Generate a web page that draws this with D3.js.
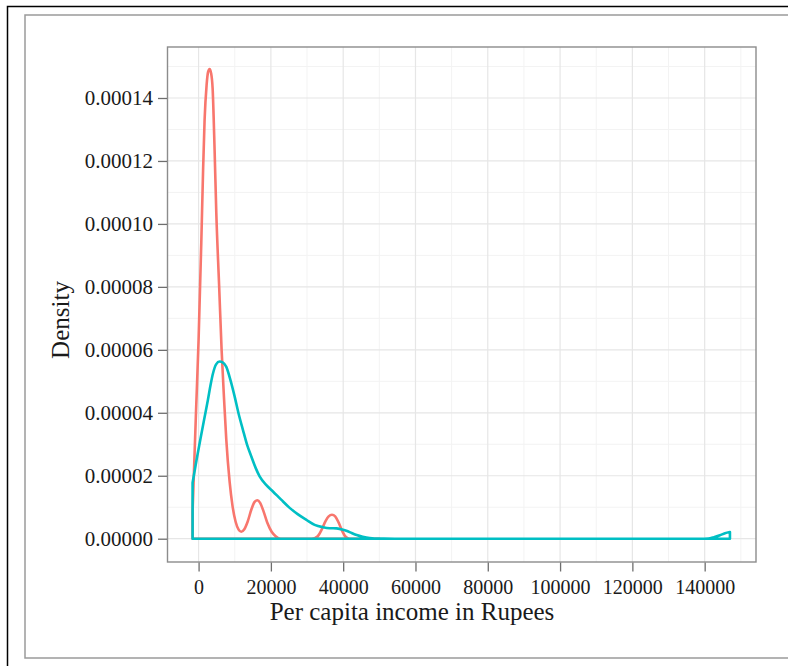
<!DOCTYPE html>
<html>
<head>
<meta charset="utf-8">
<script src="https://cdn.jsdelivr.net/npm/d3@7"></script>
<style>
  html, body { margin: 0; padding: 0; background: #fff; }
  svg { display: block; }
</style>
</head>
<body>
<div class="density_chart"></div>
<script>
// income (Rupees) / density pairs
const redIncome = [-1661, -1384, -692, 0, 747, 1246, 1661, 2215, 2630, 3045, 3460, 3875, 4429, 4900,
  5675, 6367, 7059, 7668, 8581, 9412, 10242, 11073, 11820, 12595, 13564, 14671, 15502, 16249,
  17024, 17993, 19100, 20208, 21315, 22699, 27000, 31300, 32942, 34049, 35156, 35986, 36899,
  37785, 38754, 39723, 40692, 41800, 50000];
const redDensity = [8.6e-6, 1.78e-5, 4.10e-5, 6.32e-5, 9.40e-5, 1.171e-4, 1.330e-4, 1.441e-4, 1.483e-4,
  1.492e-4, 1.479e-4, 1.432e-4, 1.235e-4, 1.035e-4, 8.06e-5, 6.00e-5, 4.41e-5, 3.14e-5, 1.81e-5,
  1.02e-5, 5.4e-6, 2.9e-6, 2.2e-6, 2.9e-6, 5.4e-6, 9.5e-6, 1.17e-5, 1.22e-5, 1.14e-5, 8.6e-6,
  4.8e-6, 2.2e-6, 8e-7, 0, 0, 0, 8e-7, 2.9e-6, 5.7e-6, 7.1e-6, 7.62e-6, 7.1e-6, 5.1e-6, 2.5e-6,
  6e-7, 0, 0];

const tealIncome = [-1661, -554, 471, 1523, 2574, 3322, 3959, 4844, 5813, 6644, 7668, 8858, 9966,
  11073, 12263, 13426, 14588, 15779, 16886, 18685, 20568, 22837, 25190, 27405, 29813, 32111,
  34408, 36263, 38117, 39446, 40886, 42353, 43737, 45398, 47336, 50104, 54257, 100000, 138686,
  140983, 142561, 144222, 145606, 146990];
const tealDensity = [1.78e-5, 2.51e-5, 3.14e-5, 3.78e-5, 4.41e-5, 4.89e-5, 5.24e-5, 5.54e-5, 5.63e-5,
  5.60e-5, 5.46e-5, 5.02e-5, 4.52e-5, 3.97e-5, 3.46e-5, 2.98e-5, 2.61e-5, 2.25e-5, 1.98e-5,
  1.71e-5, 1.50e-5, 1.24e-5, 9.8e-6, 7.8e-6, 6.0e-6, 4.4e-6, 3.65e-6, 3.33e-6, 3.27e-6, 3.0e-6,
  2.54e-6, 1.81e-6, 1.17e-6, 6.3e-7, 2.2e-7, 3e-8, 0, 0, 0, 6e-8, 4.8e-7, 1.11e-6, 1.75e-6, 2.13e-6];

const xTicks = [0, 20000, 40000, 60000, 80000, 100000, 120000, 140000];
const yTicks = [0, 0.00002, 0.00004, 0.00006, 0.00008, 0.0001, 0.00012, 0.00014];
const xMinor = [10000, 30000, 50000, 70000, 90000, 110000, 130000, 150000];
const yMinor = [0.00001, 0.00003, 0.00005, 0.00007, 0.00009, 0.00011, 0.00013, 0.00015];

const colors = ["#F8766D", "#00BFC4"];

const width = 788, height = 666;
const panel = { left: 167.5, right: 756, top: 47, bottom: 562 };

const svg = d3.select(".density_chart")
  .append("svg")
  .attr("width", width)
  .attr("height", height);

// outer frames
svg.append("path")
  .attr("d", "M7.5,666 L7.5,6.5 L788,6.5")
  .attr("fill", "none")
  .attr("stroke", "#000")
  .attr("stroke-width", 1.5);
svg.append("rect")
  .attr("x", 25).attr("y", 15)
  .attr("width", 800).attr("height", 643)
  .attr("fill", "none")
  .attr("stroke", "#9a9a9a")
  .attr("stroke-width", 1.5);

const x = d3.scaleLinear().domain([-8600, 154200]).range([panel.left, panel.right]);
const y = d3.scaleLinear().domain([-7.4e-6, 1.562e-4]).range([panel.bottom, panel.top]);

// grid
const grid = svg.append("g");
grid.selectAll(".minor-x").data(xMinor).join("line")
  .attr("x1", d => x(d)).attr("x2", d => x(d))
  .attr("y1", panel.top).attr("y2", panel.bottom)
  .attr("stroke", "#f3f3f3").attr("stroke-width", 1);
grid.selectAll(".minor-y").data(yMinor).join("line")
  .attr("y1", d => y(d)).attr("y2", d => y(d))
  .attr("x1", panel.left).attr("x2", panel.right)
  .attr("stroke", "#f3f3f3").attr("stroke-width", 1);
grid.selectAll(".major-x").data(xTicks).join("line")
  .attr("x1", d => x(d)).attr("x2", d => x(d))
  .attr("y1", panel.top).attr("y2", panel.bottom)
  .attr("stroke", "#e6e6e6").attr("stroke-width", 1.2);
grid.selectAll(".major-y").data(yTicks).join("line")
  .attr("y1", d => y(d)).attr("y2", d => y(d))
  .attr("x1", panel.left).attr("x2", panel.right)
  .attr("stroke", "#e6e6e6").attr("stroke-width", 1.2);

// density outlines (closed like geom_density)
const area = d3.area()
  .x(d => x(d[0]))
  .y0(y(0))
  .y1(d => y(d[1]))
  .curve(d3.curveMonotoneX);

const series = [
  d3.zip(redIncome, redDensity),
  d3.zip(tealIncome, tealDensity)
];

svg.selectAll(".density").data(series).join("path")
  .attr("class", "density")
  .attr("d", area)
  .attr("fill", "none")
  .attr("stroke", (d, i) => colors[i])
  .attr("stroke-width", 2.6)
  .attr("stroke-linejoin", "round");

// panel border
svg.append("rect")
  .attr("x", panel.left).attr("y", panel.top)
  .attr("width", panel.right - panel.left)
  .attr("height", panel.bottom - panel.top)
  .attr("fill", "none")
  .attr("stroke", "#8c8c8c")
  .attr("stroke-width", 1.4);

// axes
const xAxis = d3.axisBottom(x).tickValues(xTicks).tickSize(9).tickPadding(8).tickFormat(d3.format("d"));
const yAxis = d3.axisLeft(y).tickValues(yTicks).tickSize(9).tickPadding(5).tickFormat(d3.format(".5f"));

const gx = svg.append("g")
  .attr("transform", "translate(0," + (panel.bottom + 0.5) + ")")
  .call(xAxis);
const gy = svg.append("g")
  .attr("transform", "translate(" + (panel.left - 0.5) + ",0)")
  .call(yAxis);

[gx, gy].forEach(g => {
  g.select(".domain").remove();
  g.selectAll(".tick line").attr("stroke", "#6e6e6e").attr("stroke-width", 1.3);
  g.selectAll(".tick text")
    .attr("fill", "#1a1a1a")
    .style("font-family", "'Liberation Serif', 'DejaVu Serif', serif");
});
gx.selectAll(".tick text").style("font-size", "20px");
gy.selectAll(".tick text").style("font-size", "21px");

// axis titles
svg.append("text")
  .attr("x", 412)
  .attr("y", 620)
  .attr("text-anchor", "middle")
  .attr("fill", "#1a1a1a")
  .style("font-family", "'Liberation Serif', 'DejaVu Serif', serif")
  .style("font-size", "25px")
  .text("Per capita income in Rupees");

svg.append("text")
  .attr("transform", "translate(69,320) rotate(-90)")
  .attr("text-anchor", "middle")
  .attr("fill", "#1a1a1a")
  .style("font-family", "'Liberation Serif', 'DejaVu Serif', serif")
  .style("font-size", "25px")
  .text("Density");
</script>
</body>
</html>
